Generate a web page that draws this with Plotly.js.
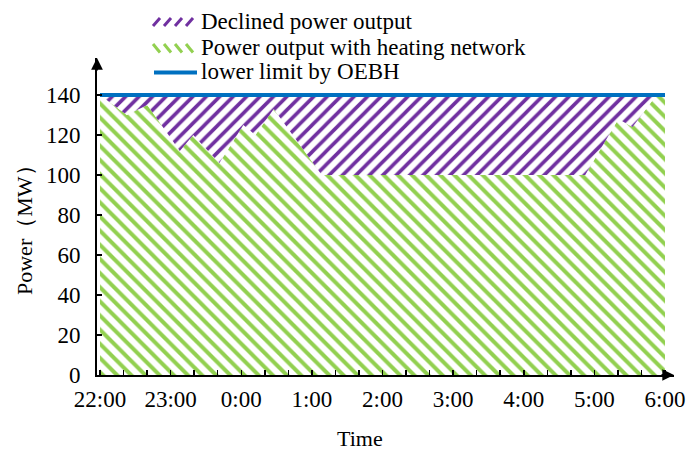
<!DOCTYPE html>
<html>
<head>
<meta charset="utf-8">
<script src="https://cdn.plot.ly/plotly-3.0.1.min.js"></script>
<style>html,body{margin:0;padding:0;background:#fff;}#chart{width:688px;height:451px;}</style>
</head>
<body>
<div id="chart"></div>
<script>
// ---- data (hours after 22:00) ----
const hours = [0, 0.38, 0.67, 1.13, 1.32, 1.69, 2.03, 2.20, 2.46, 3.14, 6.87, 7.34, 7.54, 7.88, 8.0];
const powerWithHeating = [140, 130, 135, 112, 120, 106, 125, 120, 133, 100, 100, 128, 124, 140, 140];
const limitHours = [0, 8];
const limitPower = [140, 140];
const timeLabels = ['22:00', '23:00', '0:00', '1:00', '2:00', '3:00', '4:00', '5:00', '6:00'];
const yTicks = [0, 20, 40, 60, 80, 100, 120, 140];
const seriesNames = ['Declined power output', 'Power output with heating network', 'lower limit by OEBH'];

// ---- layout geometry ----
const W = 688, H = 451;
const M = {l: 97, r: 14, t: 58, b: 76};
const plotW = W - M.l - M.r, plotH = H - M.t - M.b;
const px = x => (x - M.l) / plotW;
const py = y => (H - M.b - y) / plotH;

// tick positions every 20 minutes, labels every hour
const tickVals = [], tickText = [];
for (let k = 0; k <= 24; k++) {
  tickVals.push(k / 3);
  tickText.push(k % 3 === 0 ? timeLabels[k / 3] : '');
}

const FONT = 'Liberation Serif, Times New Roman, serif';
const PURPLE = '#7030A0', GREEN = '#92D050', BLUE = '#0070C0';

const traces = [
  {
    x: hours, y: powerWithHeating, type: 'scatter', mode: 'lines',
    name: seriesNames[1], line: {width: 0, color: GREEN},
    fill: 'tozeroy', fillcolor: 'rgba(0,0,0,0)',
    fillpattern: {shape: '\\', fgcolor: GREEN, bgcolor: 'white', size: 10, solidity: 0.4},
    showlegend: false, hoverinfo: 'skip'
  },
  {
    x: limitHours, y: limitPower, type: 'scatter', mode: 'lines',
    name: seriesNames[0], line: {width: 0, color: PURPLE},
    fill: 'tonexty', fillcolor: 'rgba(0,0,0,0)',
    fillpattern: {shape: '/', fgcolor: PURPLE, bgcolor: 'white', size: 9.5, solidity: 0.38},
    showlegend: false, hoverinfo: 'skip'
  },
  {
    x: limitHours, y: limitPower, type: 'scatter', mode: 'lines',
    name: seriesNames[2], line: {width: 4, color: BLUE},
    showlegend: false
  }
];

// manual legend swatches
const shapes = [];
[153, 164, 175, 186].forEach(x0 => {
  shapes.push({type: 'line', xref: 'paper', yref: 'paper', x0: px(x0), y0: py(26), x1: px(x0 + 7), y1: py(18),
    line: {color: PURPLE, width: 3}});
  shapes.push({type: 'line', xref: 'paper', yref: 'paper', x0: px(x0), y0: py(44), x1: px(x0 + 7), y1: py(52.5),
    line: {color: GREEN, width: 3}});
});
shapes.push({type: 'line', xref: 'paper', yref: 'paper', x0: px(154), y0: py(72.5), x1: px(197), y1: py(72.5),
  line: {color: BLUE, width: 4}});

const legendY = [21, 47, 72];
const annotations = seriesNames.map((n, i) => ({
  xref: 'paper', yref: 'paper', x: px(199), y: py(legendY[i]), xanchor: 'left', yanchor: 'middle',
  text: n, showarrow: false, font: {family: FONT, size: 23, color: '#000'}
}));
annotations.push({
  xref: 'paper', yref: 'paper', x: px(360), y: py(438), xanchor: 'center', yanchor: 'middle',
  text: 'Time', showarrow: false, font: {family: FONT, size: 22, color: '#000'}
});
annotations.push({
  xref: 'paper', yref: 'paper', x: px(24), y: py(225), xanchor: 'center', yanchor: 'middle',
  text: 'Power（MW）', textangle: -90, showarrow: false, font: {family: FONT, size: 22, color: '#000'}
});
// axis arrowheads
annotations.push({xref: 'paper', yref: 'paper', x: 1, y: 0, ax: -14, ay: 0, text: '', showarrow: true,
  arrowhead: 2, arrowsize: 1.3, arrowwidth: 1.8, arrowcolor: '#000'});
annotations.push({xref: 'paper', yref: 'paper', x: 0, y: 1, ax: 0, ay: 14, text: '', showarrow: true,
  arrowhead: 2, arrowsize: 1.3, arrowwidth: 1.8, arrowcolor: '#000'});

const x0 = -3 / 70.625;
const layout = {
  width: W, height: H,
  margin: M,
  paper_bgcolor: '#fff', plot_bgcolor: '#fff',
  font: {family: FONT, size: 23, color: '#000'},
  showlegend: false,
  xaxis: {
    range: [x0, x0 + plotW / 70.625],
    tickmode: 'array', tickvals: tickVals, ticktext: tickText,
    ticks: 'inside', ticklen: 5, tickwidth: 1.5, tickcolor: '#000',
    showline: true, linecolor: '#000', linewidth: 2,
    showgrid: false, zeroline: false,
    ticklabelstandoff: 2,
    tickfont: {family: FONT, size: 23, color: '#000'}
  },
  yaxis: {
    range: [0, plotH / 2],
    tickmode: 'array', tickvals: yTicks,
    ticks: 'inside', ticklen: 5, tickwidth: 1.5, tickcolor: '#000',
    showline: true, linecolor: '#000', linewidth: 2,
    showgrid: false, zeroline: false,
    ticklabelstandoff: 10,
    tickfont: {family: FONT, size: 23, color: '#000'}
  },
  shapes: shapes,
  annotations: annotations
};

Plotly.newPlot('chart', traces, layout, {staticPlot: true, displayModeBar: false});
</script>
</body>
</html>
